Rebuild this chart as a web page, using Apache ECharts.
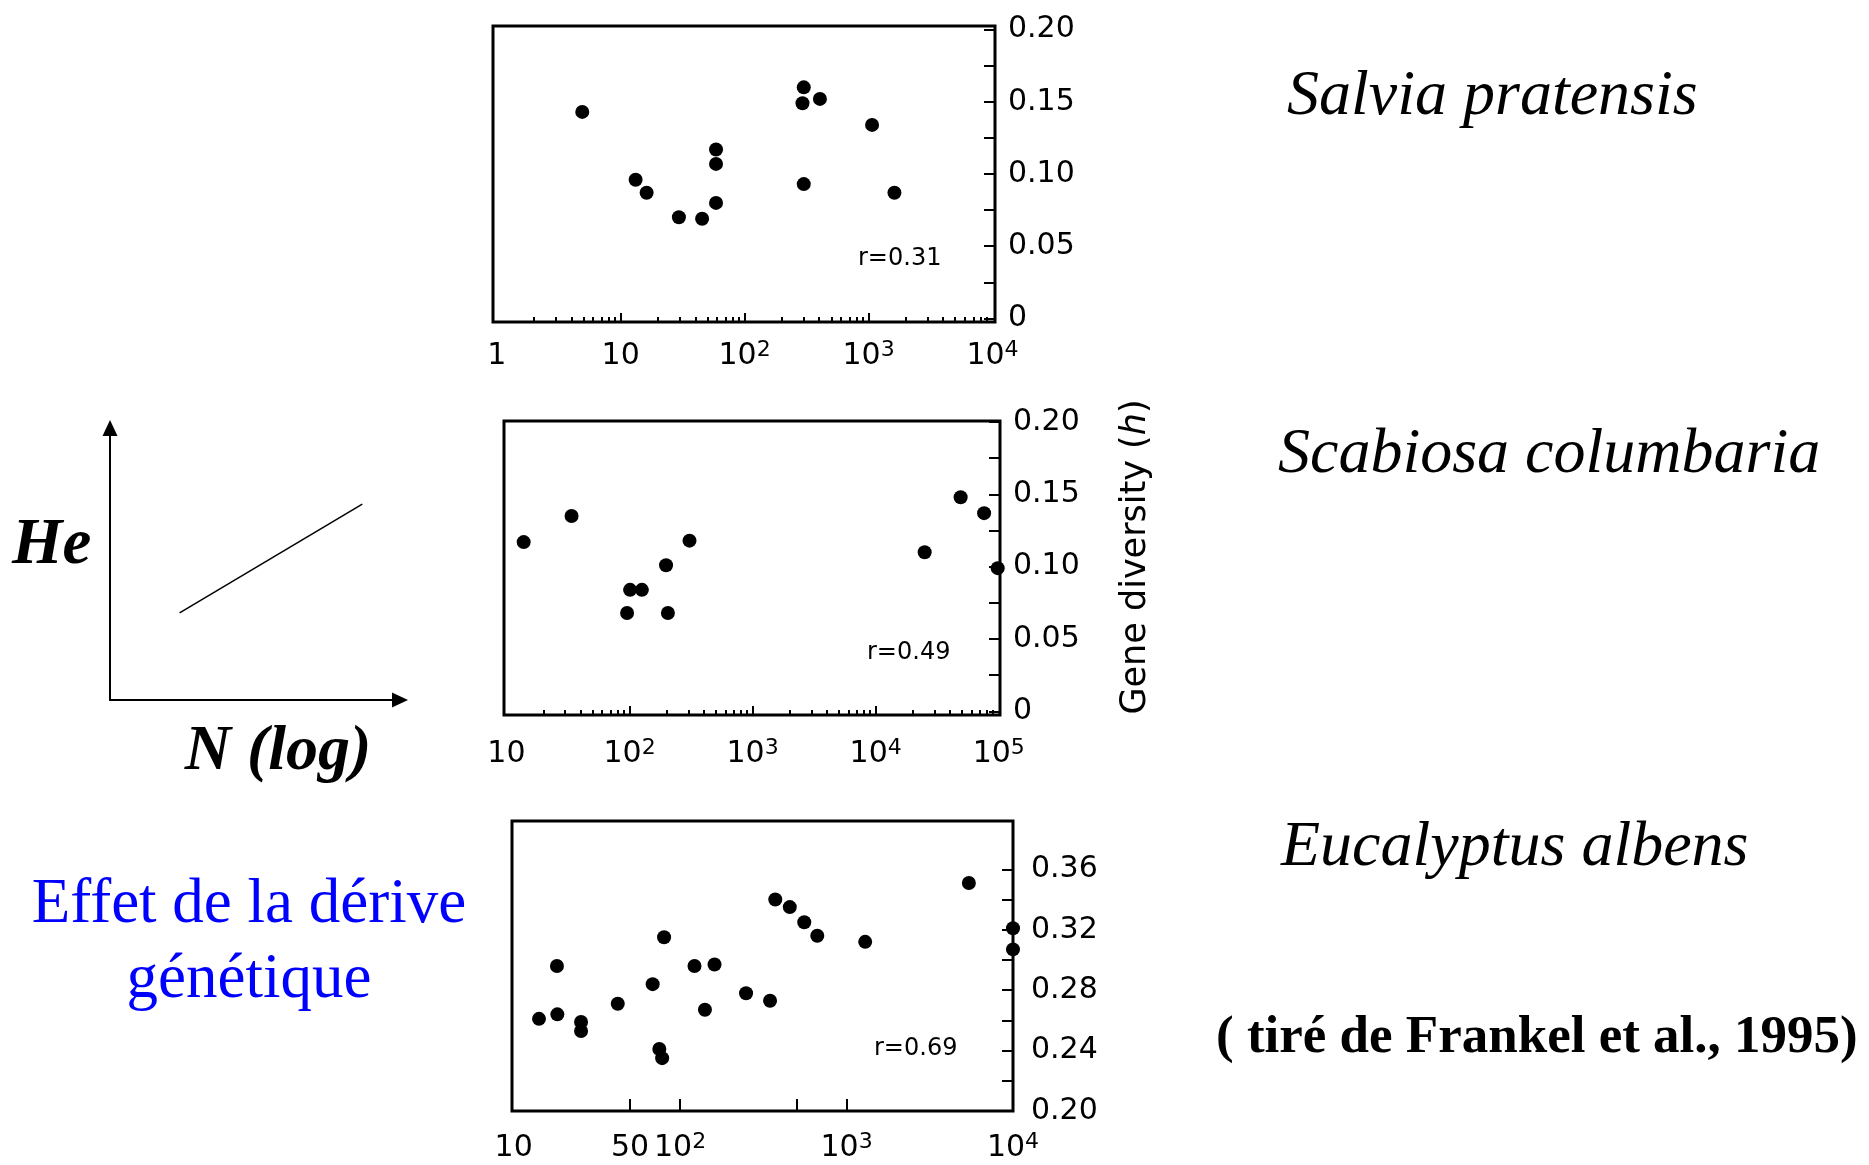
<!DOCTYPE html>
<html><head><meta charset="utf-8">
<script src="https://cdn.jsdelivr.net/npm/echarts@6/dist/echarts.min.js"></script>
<style>html,body{margin:0;padding:0;background:#fff}#c{width:1869px;height:1165px}</style>
</head><body><div id="c"></div>
<script>
// ---------- data ----------
const salviaN = [4.9, 13.2, 16.2, 29.5, 45.4, 58.8, 58.8, 58.8, 300, 293, 405, 300, 1067, 1617];
const salviaH = [0.143, 0.096, 0.087, 0.070, 0.069, 0.117, 0.107, 0.080, 0.160, 0.149, 0.152, 0.093, 0.134, 0.087];

const scabiosaN = [13.8, 33.8, 95.5, 101, 126, 198, 205, 307, 25000, 49000, 76000, 98000];
const scabiosaH = [0.117, 0.135, 0.068, 0.084, 0.084, 0.101, 0.068, 0.118, 0.110, 0.148, 0.137, 0.099];

const eucalyptusN = [14.2, 18.2, 18.3, 25.4, 25.4, 42.2, 68.4, 80.1, 78, 75, 122, 161, 141, 249, 347, 373, 456, 557, 667, 1294, 5430, 10000, 10000];
const eucalyptusH = [0.261, 0.296, 0.264, 0.253, 0.259, 0.271, 0.284, 0.315, 0.235, 0.241, 0.296, 0.297, 0.267, 0.278, 0.273, 0.340, 0.335, 0.325, 0.316, 0.312, 0.351, 0.321, 0.307];

// schematic He vs N(log)
const schematicN = [0.24, 0.87];
const schematicHe = [0.32, 0.72];

// tick labels
const salviaXLabels = [1, 10, 100, 1000, 10000];
const salviaXMajor = [10, 100, 1000];
const salviaYLabels = [0, 0.05, 0.10, 0.15, 0.20];
const salviaYTicks = [0, 0.025, 0.05, 0.075, 0.10, 0.125, 0.15, 0.175, 0.20];

const scabiosaXLabels = [10, 100, 1000, 10000, 100000];
const scabiosaXMajor = [100, 1000, 10000];
const scabiosaYLabels = [0, 0.05, 0.10, 0.15, 0.20];
const scabiosaYTicks = [0, 0.025, 0.05, 0.075, 0.10, 0.125, 0.15, 0.175, 0.20];

const eucalyptusXLabels = [10, 50, 100, 1000, 10000];
const eucalyptusXMajor = [50, 100, 500, 1000];
const eucalyptusYLabels = [0.20, 0.24, 0.28, 0.32, 0.36];
const eucalyptusYTicks = [0.20, 0.22, 0.24, 0.26, 0.28, 0.30, 0.32, 0.34, 0.36];

const minorMultipliers = [2, 3, 4, 5, 6, 7, 8, 9];

const speciesNames = ['Salvia pratensis', 'Scabiosa columbaria', 'Eucalyptus albens'];
const rValues = ['r=0.31', 'r=0.49', 'r=0.69'];

// ---------- helpers ----------
const L = v => Math.log10(v);
function minorTicks(d0, d1) {
  const out = [];
  for (let d = d0; d < d1; d++) minorMultipliers.forEach(k => out.push(L(k * Math.pow(10, d))));
  return out;
}
function fmtX(v) {
  const e = Math.round(v);
  if (Math.abs(v - e) < 1e-6) {
    if (e >= 2) return '10{s|' + e + '}';
    return String(Math.pow(10, e));
  }
  return String(Math.round(Math.pow(10, v)));
}
function fmtY(v) { return Math.abs(v) < 1e-9 ? '0' : v.toFixed(2); }

const TICKFONT = 'DejaVu Sans';
const panels = [
  { grid: {left: 493, top: 26, width: 502, height: 296}, xr: [-0.03, 4.02], yr: [-0.0025, 0.2025],
    xLabels: salviaXLabels, xMajor: salviaXMajor, minor: [0, 4], majorLen: 9,
    yLabels: salviaYLabels, yTicks: salviaYTicks, xMargin: 17, yMargin: 13,
    N: salviaN, H: salviaH },
  { grid: {left: 504, top: 421, width: 496, height: 294}, xr: [0.98, 5.01], yr: [-0.0025, 0.2007],
    xLabels: scabiosaXLabels, xMajor: scabiosaXMajor, minor: [1, 5], majorLen: 9,
    yLabels: scabiosaYLabels, yTicks: scabiosaYTicks, xMargin: 22, yMargin: 13,
    N: scabiosaN, H: scabiosaH },
  { grid: {left: 512, top: 821, width: 501, height: 293}, xr: [0.99, 4.0], yr: [0.2, 0.392],
    xLabels: eucalyptusXLabels, xMajor: eucalyptusXMajor, minor: null, majorLen: 12,
    yLabels: eucalyptusYLabels, yTicks: eucalyptusYTicks, xMargin: 20, yMargin: 18,
    N: eucalyptusN, H: eucalyptusH }
];

const grids = [], xAxes = [], yAxes = [], series = [];
const labelStyle = {
  color: '#000', fontFamily: TICKFONT, fontSize: 30, lineHeight: 34,
  rich: { s: { fontFamily: TICKFONT, fontSize: 22, lineHeight: 22, verticalAlign: 'top', color: '#000' } }
};
const noLine = { show: false, onZero: false };

panels.forEach((p, i) => {
  grids.push(Object.assign({ show: true, borderColor: '#000', borderWidth: 3, backgroundColor: 'transparent' }, p.grid));
  const xi = xAxes.length;
  // log axis carrying the data
  xAxes.push({ type: 'log', logBase: 10, gridIndex: i, min: Math.pow(10, p.xr[0]), max: Math.pow(10, p.xr[1]),
    show: false, axisLine: noLine });
  // minor ticks
  xAxes.push({ type: 'value', gridIndex: i, min: p.xr[0], max: p.xr[1], position: 'bottom',
    axisLine: noLine, splitLine: {show: false}, axisLabel: {show: false},
    axisTick: p.minor ? { show: true, inside: true, length: 5, lineStyle: {color: '#000', width: 2}, customValues: minorTicks(p.minor[0], p.minor[1]) } : { show: false } });
  // major ticks + labels
  xAxes.push({ type: 'value', gridIndex: i, min: p.xr[0], max: p.xr[1], position: 'bottom',
    axisLine: noLine, splitLine: {show: false},
    axisTick: { show: true, inside: true, length: p.majorLen, lineStyle: {color: '#000', width: 2}, customValues: p.xMajor.map(L) },
    axisLabel: Object.assign({ show: true, margin: p.xMargin, customValues: p.xLabels.map(L), formatter: fmtX }, labelStyle) });
  const y = { type: 'value', gridIndex: i, min: p.yr[0], max: p.yr[1], position: 'right',
    axisLine: noLine, splitLine: {show: false},
    axisTick: { show: true, inside: true, length: 11, lineStyle: {color: '#000', width: 2}, customValues: p.yTicks },
    axisLabel: Object.assign({ show: true, margin: p.yMargin, customValues: p.yLabels, formatter: fmtY }, labelStyle) };
  if (i === 1) {
    y.name = 'Gene diversity ({i|h})';
    y.nameLocation = 'middle';
    y.nameGap = 118;
    y.nameTextStyle = { color: '#000', fontFamily: TICKFONT, fontSize: 35, padding: [0, 0, 0, 22],
      rich: { i: { fontFamily: TICKFONT, fontSize: 35, fontStyle: 'italic', color: '#000' } } };
  }
  yAxes.push(y);
  series.push({ type: 'scatter', name: speciesNames[i], xAxisIndex: xi, yAxisIndex: i,
    symbol: 'circle', symbolSize: 14, itemStyle: { color: '#000', opacity: 1 },
    data: p.N.map((n, k) => [n, p.H[k]]) });
});

// schematic
grids.push({ left: 110, top: 428, width: 290, height: 272, show: false });
const sxi = xAxes.length;
xAxes.push({ type: 'value', gridIndex: 3, min: 0, max: 1,
  axisLine: { show: true, onZero: false, symbol: ['none', 'triangle'], symbolSize: [15, 16], lineStyle: {color: '#000', width: 2} },
  axisTick: {show: false}, axisLabel: {show: false}, splitLine: {show: false} });
yAxes.push({ type: 'value', gridIndex: 3, min: 0, max: 1,
  axisLine: { show: true, onZero: false, symbol: ['none', 'triangle'], symbolSize: [15, 16], lineStyle: {color: '#000', width: 2} },
  axisTick: {show: false}, axisLabel: {show: false}, splitLine: {show: false} });
series.push({ type: 'line', xAxisIndex: sxi, yAxisIndex: 3, symbol: 'none', silent: true,
  lineStyle: { color: '#000', width: 1.5 }, data: schematicN.map((x, k) => [x, schematicHe[k]]) });

function txt(x, y, text, o) {
  return { type: 'text', x: x, y: y, silent: true,
    style: Object.assign({ text: text, fill: '#000', fontFamily: 'Liberation Serif',
      align: 'left', textAlign: 'left', verticalAlign: 'middle', textVerticalAlign: 'middle' }, o) };
}
const graphic = [
  txt(1287, 97, speciesNames[0], { fontSize: 64, fontStyle: 'italic' }),
  txt(1278, 455, speciesNames[1], { fontSize: 64, fontStyle: 'italic' }),
  txt(1281, 848, speciesNames[2], { fontSize: 64, fontStyle: 'italic' }),
  txt(1216, 1038, '( tiré de Frankel et al., 1995)', { fontSize: 53, fontWeight: 'bold' }),
  txt(249, 905, 'Effet de la dérive', { fontSize: 63, fill: '#0000FF', align: 'center', textAlign: 'center' }),
  txt(249, 980, 'génétique', { fontSize: 63, fill: '#0000FF', align: 'center', textAlign: 'center' }),
  txt(12, 546, 'He', { fontSize: 65, fontStyle: 'italic', fontWeight: 'bold' }),
  txt(278, 752, 'N (log)', { fontSize: 64, fontStyle: 'italic', fontWeight: 'bold', align: 'center', textAlign: 'center' }),
  txt(858, 259, rValues[0], { fontSize: 24, fontFamily: TICKFONT }),
  txt(867, 653, rValues[1], { fontSize: 24, fontFamily: TICKFONT }),
  txt(874, 1049, rValues[2], { fontSize: 24, fontFamily: TICKFONT })
];

const chart = echarts.init(document.getElementById('c'), null, { renderer: 'canvas' });
chart.setOption({
  animation: false,
  backgroundColor: '#fff',
  grid: grids, xAxis: xAxes, yAxis: yAxes, series: series, graphic: graphic
});
</script></body></html>
